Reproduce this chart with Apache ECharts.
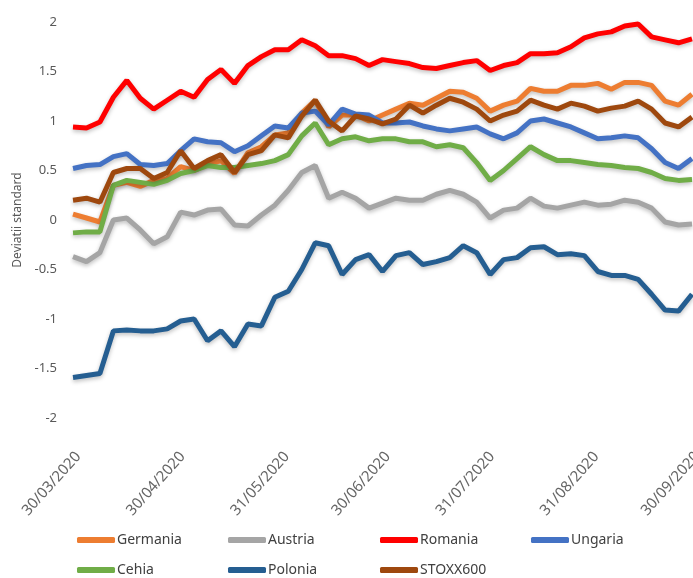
<!DOCTYPE html>
<html>
<head>
<meta charset="utf-8">
<style>
  html, body { margin: 0; padding: 0; background: #fff; }
  #chart { width: 693px; height: 578px; }
</style>
<script src="https://cdn.jsdelivr.net/npm/echarts@6/dist/echarts.min.js"></script>
</head>
<body>
<div id="chart"></div>
<script>
// day offsets from 30/03/2020 of the sampled points
const sampleDays = [0, 4, 8, 12, 16, 20, 24, 28, 32, 36, 40, 44, 48, 52, 56, 60,
  64, 68, 72, 76, 80, 84, 88, 92, 96, 100, 104, 108, 112, 116, 120, 124, 128,
  132, 136, 140, 144, 148, 152, 156, 160, 164, 168, 172, 176, 180, 184]

const tickLabels = ['30/03/2020', '30/04/2020', '31/05/2020', '30/06/2020',
  '31/07/2020', '31/08/2020', '30/09/2020']

const germania = [0.06, 0.02, -0.02, 0.35, 0.38, 0.34, 0.40, 0.42, 0.54, 0.50, 0.56, 0.60,
  0.47, 0.68, 0.74, 0.86, 0.88, 1.08, 1.21, 0.94, 1.06, 1.06, 1.00, 1.06, 1.12, 1.18,
  1.16, 1.23, 1.30, 1.29, 1.23, 1.10, 1.16, 1.20, 1.33, 1.30, 1.30, 1.36, 1.36, 1.38,
  1.32, 1.39, 1.39, 1.36, 1.20, 1.16, 1.27]
const austria = [-0.37, -0.42, -0.33, 0.00, 0.02, -0.10, -0.24, -0.17, 0.08, 0.05, 0.10,
  0.11, -0.05, -0.06, 0.05, 0.15, 0.30, 0.48, 0.55, 0.22, 0.28, 0.22, 0.12, 0.17, 0.22,
  0.20, 0.20, 0.26, 0.30, 0.26, 0.18, 0.02, 0.10, 0.12, 0.22, 0.14, 0.12, 0.15, 0.18,
  0.15, 0.16, 0.20, 0.18, 0.12, -0.02, -0.05, -0.04]
const romania = [0.94, 0.93, 0.99, 1.24, 1.41, 1.23, 1.12, 1.21, 1.30, 1.24, 1.42, 1.52,
  1.38, 1.56, 1.65, 1.72, 1.72, 1.82, 1.76, 1.66, 1.66, 1.63, 1.56, 1.62, 1.60, 1.58,
  1.54, 1.53, 1.56, 1.59, 1.61, 1.51, 1.56, 1.59, 1.68, 1.68, 1.69, 1.75, 1.84, 1.88,
  1.90, 1.96, 1.98, 1.85, 1.82, 1.79, 1.83]
const ungaria = [0.52, 0.55, 0.56, 0.64, 0.67, 0.56, 0.55, 0.57, 0.70, 0.82, 0.79, 0.78,
  0.69, 0.75, 0.85, 0.95, 0.93, 1.08, 1.10, 0.96, 1.12, 1.07, 1.06, 0.98, 0.98, 0.99,
  0.95, 0.92, 0.90, 0.92, 0.94, 0.87, 0.82, 0.88, 1.00, 1.02, 0.98, 0.94, 0.88, 0.82,
  0.83, 0.85, 0.83, 0.72, 0.58, 0.52, 0.62]
const cehia = [-0.13, -0.12, -0.12, 0.35, 0.40, 0.38, 0.36, 0.40, 0.47, 0.50, 0.55, 0.53,
  0.53, 0.55, 0.57, 0.60, 0.66, 0.85, 0.98, 0.76, 0.82, 0.84, 0.80, 0.82, 0.82, 0.79,
  0.79, 0.74, 0.76, 0.73, 0.58, 0.40, 0.50, 0.62, 0.74, 0.66, 0.60, 0.60, 0.58, 0.56,
  0.55, 0.53, 0.52, 0.48, 0.42, 0.40, 0.41]
const polonia = [-1.59, -1.57, -1.55, -1.12, -1.11, -1.12, -1.12, -1.10, -1.02, -1.00,
  -1.22, -1.12, -1.28, -1.05, -1.07, -0.78, -0.72, -0.50, -0.23, -0.26, -0.55, -0.40,
  -0.35, -0.52, -0.36, -0.33, -0.45, -0.42, -0.38, -0.26, -0.33, -0.55, -0.40, -0.38,
  -0.28, -0.27, -0.35, -0.34, -0.36, -0.52, -0.56, -0.56, -0.60, -0.75, -0.91, -0.92, -0.75]
const stoxx600 = [0.20, 0.22, 0.18, 0.48, 0.52, 0.52, 0.42, 0.48, 0.70, 0.52, 0.60, 0.66,
  0.48, 0.66, 0.70, 0.86, 0.83, 1.05, 1.21, 1.00, 0.90, 1.05, 1.02, 0.97, 1.02, 1.16,
  1.08, 1.16, 1.23, 1.19, 1.12, 1.00, 1.06, 1.10, 1.21, 1.16, 1.12, 1.18, 1.15, 1.10,
  1.13, 1.15, 1.20, 1.12, 0.98, 0.94, 1.04]

const seriesList = [
  { name: 'Germania', data: germania, color: '#ED7D31' },
  { name: 'Austria', data: austria, color: '#A5A5A5' },
  { name: 'Romania', data: romania, color: '#FF0000' },
  { name: 'Ungaria', data: ungaria, color: '#4472C4' },
  { name: 'Cehia', data: cehia, color: '#70AD47' },
  { name: 'Polonia', data: polonia, color: '#255E91' },
  { name: 'STOXX600', data: stoxx600, color: '#9E480E' }
]

function toDate(s) {
  const p = s.split('/')
  return Date.UTC(+p[2], +p[1] - 1, +p[0])
}
const DAY = 86400000
const start = toDate(tickLabels[0])
const tickDays = tickLabels.map(s => Math.round((toDate(s) - start) / DAY))

const FONT = 'Noto Sans'
const legendCols = [77, 228, 380, 531]
const legendRows = [533, 563]

const chart = echarts.init(document.getElementById('chart'))

let option = {
  animation: false,
  grid: {
    left: 73,
    right: 1,
    top: 22,
    bottom: 160,
    containLabel: false,
    outerBoundsMode: 'none'
  },
  legend: seriesList.map((s, i) => ({
    data: [s.name],
    left: legendCols[i % 4],
    top: legendRows[Math.floor(i / 4)],
    padding: 0,
    icon: 'roundRect',
    itemWidth: 38,
    itemHeight: 6,
    textStyle: {
      fontFamily: FONT,
      fontSize: 14,
      color: '#404040',
      padding: [0, 0, 0, -3]
    }
  })),
  xAxis: {
    type: 'value',
    min: 0,
    max: tickDays[tickDays.length - 1],
    splitLine: { show: false },
    axisLine: { show: false, onZero: false },
    axisTick: { show: false },
    axisLabel: {
      customValues: tickDays,
      rotate: 48,
      margin: 42,
      padding: [0, -8, 0, 0],
      fontFamily: FONT,
      fontSize: 15,
      color: '#666666',
      formatter: v => tickLabels[tickDays.indexOf(v)] || ''
    }
  },
  yAxis: {
    type: 'value',
    min: -2,
    max: 2,
    interval: 0.5,
    name: 'Deviatii standard',
    nameLocation: 'middle',
    nameGap: 48,
    nameTextStyle: {
      fontFamily: FONT,
      fontSize: 12,
      color: '#595959'
    },
    splitLine: { show: false },
    axisLine: { show: false },
    axisTick: { show: false },
    axisLabel: {
      margin: 16,
      fontFamily: FONT,
      fontSize: 13,
      color: '#595959'
    }
  },
  series: seriesList.map(s => ({
    name: s.name,
    type: 'line',
    data: s.data.map((v, i) => [sampleDays[i], v]),
    showSymbol: false,
    symbol: 'none',
    color: s.color,
    lineStyle: {
      width: 5,
      color: s.color,
      shadowBlur: 4,
      shadowColor: 'rgba(0,0,0,0.25)',
      shadowOffsetY: 2
    }
  }))
}

chart.setOption(option)
</script>
</body>
</html>
